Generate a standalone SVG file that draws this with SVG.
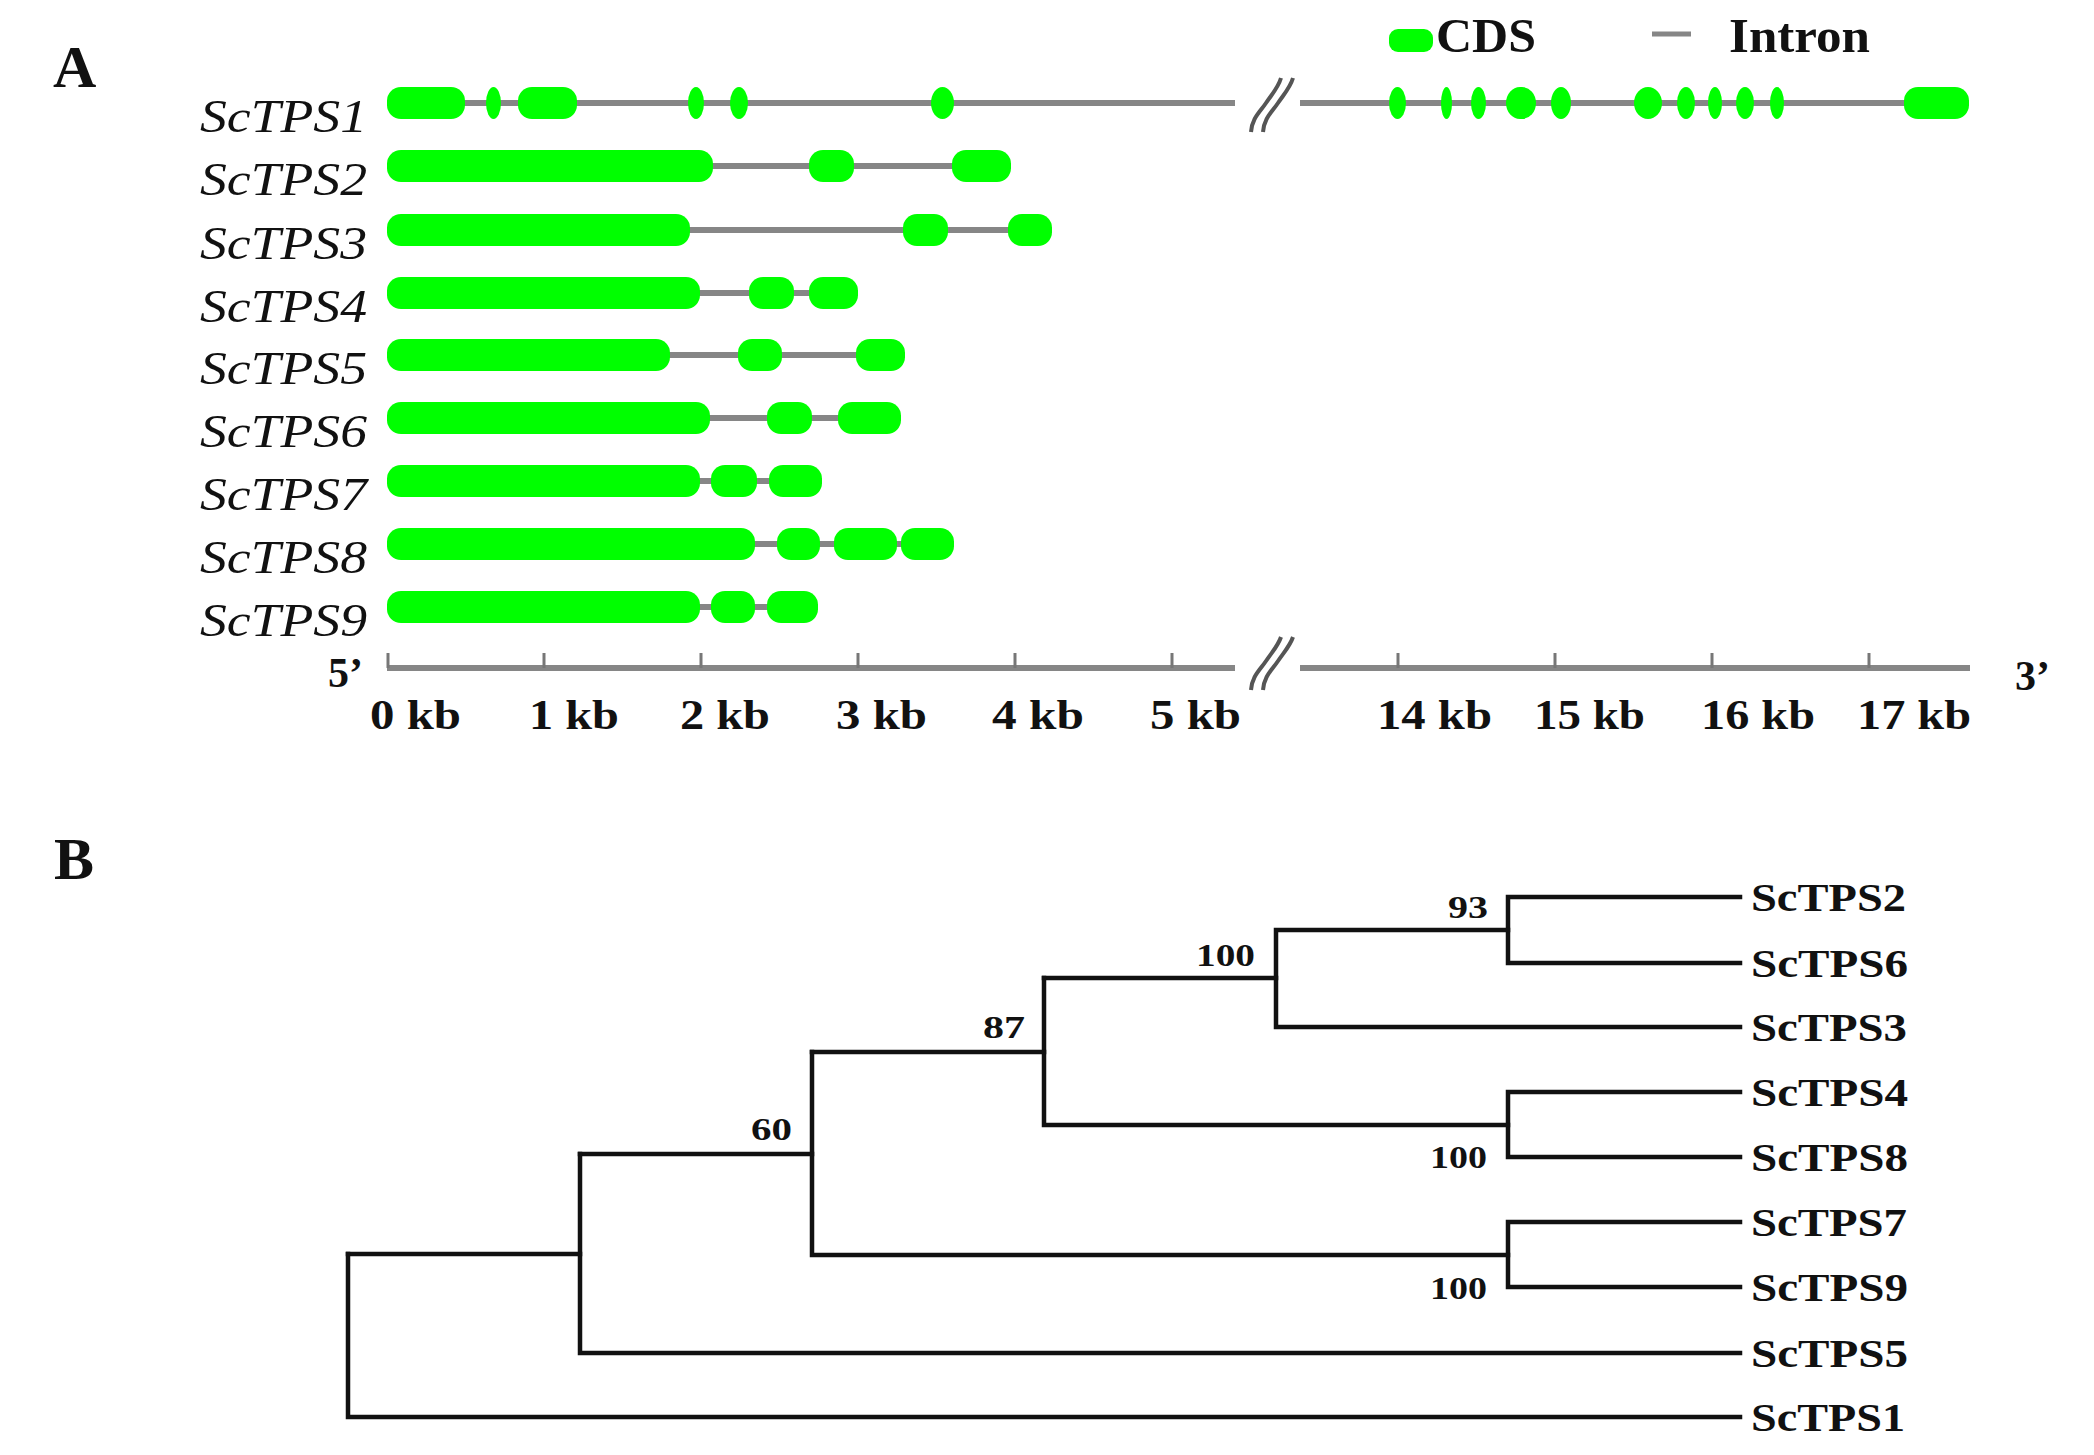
<svg xmlns="http://www.w3.org/2000/svg" width="2094" height="1455" viewBox="0 0 2094 1455">
<style>
.exon{fill:#00ff00}
.intron{stroke:#868686;stroke-width:6;fill:none}
.gname{font-family:"Liberation Serif","Times New Roman",serif;font-style:italic;font-weight:normal;font-size:47px;fill:#111;text-anchor:end}
.axis{stroke:#868686;stroke-width:6;fill:none}
.tick{stroke:#777;stroke-width:3}
.brk{stroke:#555;stroke-width:4;fill:none}
.lab{font-family:"Liberation Serif","Times New Roman",serif;font-weight:bold;font-size:42px;fill:#111}
.panel{font-family:"Liberation Serif","Times New Roman",serif;font-weight:bold;font-size:60px;fill:#111}
.leg{font-family:"Liberation Serif","Times New Roman",serif;font-weight:bold;font-size:48px;fill:#111}
.br{stroke:#111;stroke-width:4.5;fill:none;stroke-linecap:square}
.leaf{font-family:"Liberation Serif","Times New Roman",serif;font-weight:bold;font-size:40px;fill:#111}
.boot{font-family:"Liberation Serif","Times New Roman",serif;font-weight:bold;font-size:31px;fill:#111}
</style>
<rect width="2094" height="1455" fill="#fff"/>

<!-- Panel A -->
<text class="panel" x="53" y="87">A</text>

<g id="legend">
  <rect class="exon" x="1389" y="29" width="44" height="23" rx="9"/>
  <text class="leg" x="1436" y="52" textLength="100" lengthAdjust="spacingAndGlyphs">CDS</text>
  <line x1="1652" y1="34" x2="1691" y2="34" stroke="#868686" stroke-width="5"/>
  <text class="leg" x="1729" y="52" textLength="141" lengthAdjust="spacingAndGlyphs">Intron</text>
</g>

<g id="gene-ScTPS1">
  <text class="gname" x="367" y="132" textLength="167" lengthAdjust="spacingAndGlyphs">ScTPS1</text>
  <line class="intron" x1="387" y1="103" x2="1235" y2="103"/>
  <line class="intron" x1="1300" y1="103" x2="1969" y2="103"/>
  <path class="brk" d="M1251 132 C1252 118 1260 112 1266 103 S1278 88 1281 78"/>
  <path class="brk" d="M1263 132 C1264 118 1272 112 1278 103 S1290 88 1293 78"/>
  <rect class="exon" x="387" y="87" width="78" height="32" rx="14"/>
  <rect class="exon" x="486" y="87" width="15" height="32" rx="7.5" ry="16"/>
  <rect class="exon" x="518" y="87" width="59" height="32" rx="14"/>
  <rect class="exon" x="688" y="87" width="16" height="32" rx="8" ry="16"/>
  <rect class="exon" x="730" y="87" width="18" height="32" rx="9" ry="16"/>
  <rect class="exon" x="931" y="87" width="23" height="32" rx="11.5" ry="16"/>
  <rect class="exon" x="1389" y="87" width="17" height="32" rx="8.5" ry="16"/>
  <rect class="exon" x="1441" y="87" width="11" height="32" rx="5.5" ry="16"/>
  <rect class="exon" x="1471" y="87" width="15" height="32" rx="7.5" ry="16"/>
  <rect class="exon" x="1506" y="87" width="30" height="32" rx="14" ry="16"/>
  <rect class="exon" x="1551" y="87" width="20" height="32" rx="10" ry="16"/>
  <rect class="exon" x="1634" y="87" width="28" height="32" rx="14" ry="16"/>
  <rect class="exon" x="1677" y="87" width="18" height="32" rx="9" ry="16"/>
  <rect class="exon" x="1708" y="87" width="14" height="32" rx="7" ry="16"/>
  <rect class="exon" x="1736" y="87" width="18" height="32" rx="9" ry="16"/>
  <rect class="exon" x="1770" y="87" width="14" height="32" rx="7" ry="16"/>
  <rect class="exon" x="1904" y="87" width="65" height="32" rx="14"/>
</g>

<g id="gene-ScTPS2">
  <text class="gname" x="367" y="195" textLength="167" lengthAdjust="spacingAndGlyphs">ScTPS2</text>
  <line class="intron" x1="387" y1="166" x2="1011" y2="166"/>
  <rect class="exon" x="387" y="150" width="326" height="32" rx="14"/>
  <rect class="exon" x="809" y="150" width="45" height="32" rx="14"/>
  <rect class="exon" x="952" y="150" width="59" height="32" rx="14"/>
</g>

<g id="gene-ScTPS3">
  <text class="gname" x="367" y="259" textLength="167" lengthAdjust="spacingAndGlyphs">ScTPS3</text>
  <line class="intron" x1="387" y1="230" x2="1052" y2="230"/>
  <rect class="exon" x="387" y="214" width="303" height="32" rx="14"/>
  <rect class="exon" x="903" y="214" width="45" height="32" rx="14"/>
  <rect class="exon" x="1008" y="214" width="44" height="32" rx="14"/>
</g>

<g id="gene-ScTPS4">
  <text class="gname" x="367" y="322" textLength="167" lengthAdjust="spacingAndGlyphs">ScTPS4</text>
  <line class="intron" x1="387" y1="293" x2="858" y2="293"/>
  <rect class="exon" x="387" y="277" width="313" height="32" rx="14"/>
  <rect class="exon" x="749" y="277" width="45" height="32" rx="14"/>
  <rect class="exon" x="809" y="277" width="49" height="32" rx="14"/>
</g>

<g id="gene-ScTPS5">
  <text class="gname" x="367" y="384" textLength="167" lengthAdjust="spacingAndGlyphs">ScTPS5</text>
  <line class="intron" x1="387" y1="355" x2="905" y2="355"/>
  <rect class="exon" x="387" y="339" width="283" height="32" rx="14"/>
  <rect class="exon" x="738" y="339" width="44" height="32" rx="14"/>
  <rect class="exon" x="856" y="339" width="49" height="32" rx="14"/>
</g>

<g id="gene-ScTPS6">
  <text class="gname" x="367" y="447" textLength="167" lengthAdjust="spacingAndGlyphs">ScTPS6</text>
  <line class="intron" x1="387" y1="418" x2="901" y2="418"/>
  <rect class="exon" x="387" y="402" width="323" height="32" rx="14"/>
  <rect class="exon" x="767" y="402" width="45" height="32" rx="14"/>
  <rect class="exon" x="838" y="402" width="63" height="32" rx="14"/>
</g>

<g id="gene-ScTPS7">
  <text class="gname" x="367" y="510" textLength="167" lengthAdjust="spacingAndGlyphs">ScTPS7</text>
  <line class="intron" x1="387" y1="481" x2="822" y2="481"/>
  <rect class="exon" x="387" y="465" width="313" height="32" rx="14"/>
  <rect class="exon" x="711" y="465" width="46" height="32" rx="14"/>
  <rect class="exon" x="769" y="465" width="53" height="32" rx="14"/>
</g>

<g id="gene-ScTPS8">
  <text class="gname" x="367" y="573" textLength="167" lengthAdjust="spacingAndGlyphs">ScTPS8</text>
  <line class="intron" x1="387" y1="544" x2="954" y2="544"/>
  <rect class="exon" x="387" y="528" width="368" height="32" rx="14"/>
  <rect class="exon" x="777" y="528" width="43" height="32" rx="14"/>
  <rect class="exon" x="834" y="528" width="63" height="32" rx="14"/>
  <rect class="exon" x="901" y="528" width="53" height="32" rx="14"/>
</g>

<g id="gene-ScTPS9">
  <text class="gname" x="367" y="636" textLength="167" lengthAdjust="spacingAndGlyphs">ScTPS9</text>
  <line class="intron" x1="387" y1="607" x2="818" y2="607"/>
  <rect class="exon" x="387" y="591" width="313" height="32" rx="14"/>
  <rect class="exon" x="711" y="591" width="44" height="32" rx="14"/>
  <rect class="exon" x="767" y="591" width="51" height="32" rx="14"/>
</g>

<g id="scale-axis">
  <text class="lab" x="328" y="687">5’</text>
  <text class="lab" x="2015" y="690">3’</text>
  <line class="axis" x1="387" y1="668" x2="1235" y2="668"/>
  <line class="axis" x1="1300" y1="668" x2="1970" y2="668"/>
  <path class="brk" d="M1251 690 C1252 676 1260 670 1266 661 S1278 646 1281 637"/>
  <path class="brk" d="M1263 690 C1264 676 1272 670 1278 661 S1290 646 1293 637"/>
  <g class="tick">
    <line x1="388" y1="653" x2="388" y2="668"/>
    <line x1="544" y1="653" x2="544" y2="668"/>
    <line x1="701" y1="653" x2="701" y2="668"/>
    <line x1="858" y1="653" x2="858" y2="668"/>
    <line x1="1015" y1="653" x2="1015" y2="668"/>
    <line x1="1172" y1="653" x2="1172" y2="668"/>
    <line x1="1398" y1="653" x2="1398" y2="668"/>
    <line x1="1555" y1="653" x2="1555" y2="668"/>
    <line x1="1712" y1="653" x2="1712" y2="668"/>
    <line x1="1869" y1="653" x2="1869" y2="668"/>
  </g>
  <text class="lab" x="370" y="729" textLength="91" lengthAdjust="spacingAndGlyphs">0 kb</text>
  <text class="lab" x="529" y="729" textLength="90" lengthAdjust="spacingAndGlyphs">1 kb</text>
  <text class="lab" x="680" y="729" textLength="90" lengthAdjust="spacingAndGlyphs">2 kb</text>
  <text class="lab" x="836" y="729" textLength="91" lengthAdjust="spacingAndGlyphs">3 kb</text>
  <text class="lab" x="992" y="729" textLength="92" lengthAdjust="spacingAndGlyphs">4 kb</text>
  <text class="lab" x="1150" y="729" textLength="91" lengthAdjust="spacingAndGlyphs">5 kb</text>
  <text class="lab" x="1377" y="729" textLength="115" lengthAdjust="spacingAndGlyphs">14 kb</text>
  <text class="lab" x="1534" y="729" textLength="111" lengthAdjust="spacingAndGlyphs">15 kb</text>
  <text class="lab" x="1701" y="729" textLength="114" lengthAdjust="spacingAndGlyphs">16 kb</text>
  <text class="lab" x="1857" y="729" textLength="114" lengthAdjust="spacingAndGlyphs">17 kb</text>
</g>

<!-- Panel B -->
<text class="panel" x="54" y="879">B</text>

<g id="connectors">
  <path class="br" d="M1508 897 H1740 M1508 963 H1740 M1508 897 V963"/>
  <path class="br" d="M1276 930 H1508 M1276 1027 H1740 M1276 930 V1027"/>
  <path class="br" d="M1044 978 H1276"/>
  <path class="br" d="M1508 1092 H1740 M1508 1157 H1740 M1508 1092 V1157"/>
  <path class="br" d="M1044 1125 H1508 M1044 978 V1125"/>
  <path class="br" d="M812 1052 H1044"/>
  <path class="br" d="M1508 1222 H1740 M1508 1287 H1740 M1508 1222 V1287"/>
  <path class="br" d="M812 1255 H1508 M812 1052 V1255"/>
  <path class="br" d="M580 1154 H812"/>
  <path class="br" d="M580 1353 H1740 M580 1154 V1353"/>
  <path class="br" d="M348 1254 H580"/>
  <path class="br" d="M348 1417 H1740 M348 1254 V1417"/>
</g>

<g id="bootstrap">
  <text class="boot" x="1448" y="918" textLength="40" lengthAdjust="spacingAndGlyphs">93</text>
  <text class="boot" x="1196" y="966" textLength="59" lengthAdjust="spacingAndGlyphs">100</text>
  <text class="boot" x="983" y="1038" textLength="42" lengthAdjust="spacingAndGlyphs">87</text>
  <text class="boot" x="751" y="1140" textLength="41" lengthAdjust="spacingAndGlyphs">60</text>
  <text class="boot" x="1430" y="1168" textLength="57" lengthAdjust="spacingAndGlyphs">100</text>
  <text class="boot" x="1430" y="1299" textLength="57" lengthAdjust="spacingAndGlyphs">100</text>
</g>

<g id="leaf-ScTPS2"><text class="leaf" x="1751" y="911" textLength="155" lengthAdjust="spacingAndGlyphs">ScTPS2</text></g>
<g id="leaf-ScTPS6"><text class="leaf" x="1751" y="977" textLength="157" lengthAdjust="spacingAndGlyphs">ScTPS6</text></g>
<g id="leaf-ScTPS3"><text class="leaf" x="1751" y="1041" textLength="156" lengthAdjust="spacingAndGlyphs">ScTPS3</text></g>
<g id="leaf-ScTPS4"><text class="leaf" x="1751" y="1106" textLength="157" lengthAdjust="spacingAndGlyphs">ScTPS4</text></g>
<g id="leaf-ScTPS8"><text class="leaf" x="1751" y="1171" textLength="157" lengthAdjust="spacingAndGlyphs">ScTPS8</text></g>
<g id="leaf-ScTPS7"><text class="leaf" x="1751" y="1236" textLength="156" lengthAdjust="spacingAndGlyphs">ScTPS7</text></g>
<g id="leaf-ScTPS9"><text class="leaf" x="1751" y="1301" textLength="157" lengthAdjust="spacingAndGlyphs">ScTPS9</text></g>
<g id="leaf-ScTPS5"><text class="leaf" x="1751" y="1367" textLength="157" lengthAdjust="spacingAndGlyphs">ScTPS5</text></g>
<g id="leaf-ScTPS1"><text class="leaf" x="1751" y="1431" textLength="154" lengthAdjust="spacingAndGlyphs">ScTPS1</text></g>
</svg>
